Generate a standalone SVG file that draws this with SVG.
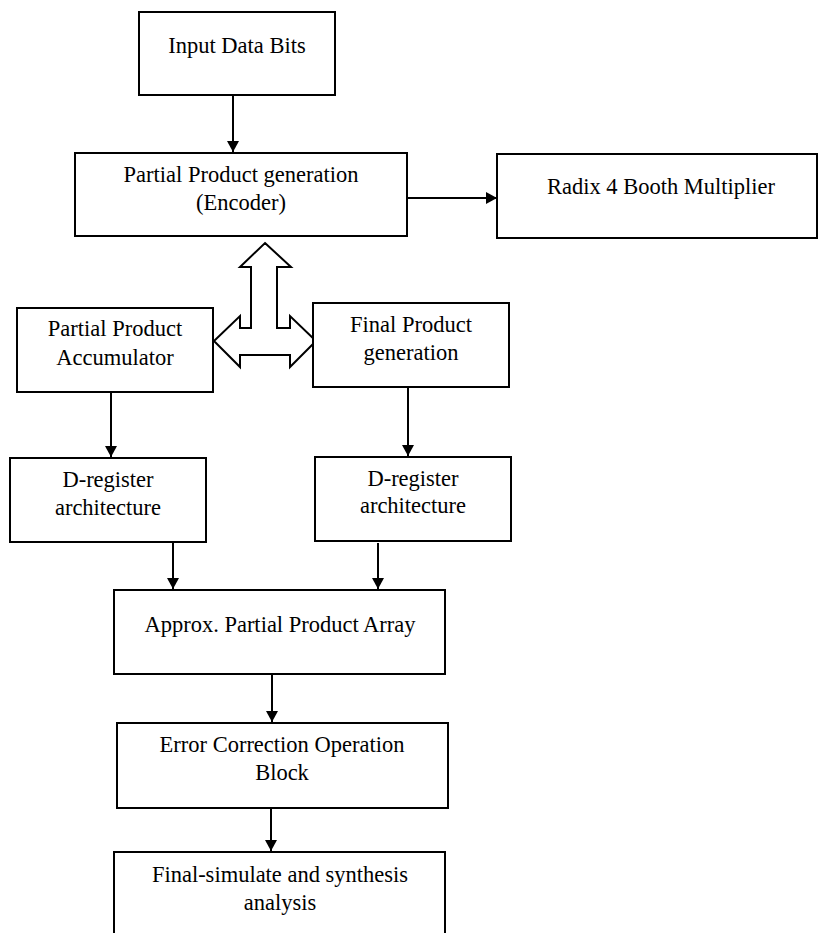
<svg xmlns="http://www.w3.org/2000/svg" width="818" height="933" viewBox="0 0 818 933">
<style>
.box{fill:#fff;stroke:#000;stroke-width:2}
.t{font-family:"Liberation Serif","Times New Roman",serif;font-size:22.5px;fill:#000;text-anchor:middle}
.c{fill:none;stroke:#000;stroke-width:2}
</style>
<defs>
<marker id="ah" viewBox="0 0 11 12" refX="11" refY="6" markerWidth="11" markerHeight="12" markerUnits="userSpaceOnUse" orient="auto">
<path d="M0,0 L11,6 L0,12 z" fill="#000"/>
</marker>
</defs>
<rect width="818" height="933" fill="#fff"/>
<g id="connectors">
<line class="c" x1="233" y1="96" x2="233" y2="152" marker-end="url(#ah)"/>
<line class="c" x1="407" y1="198" x2="497" y2="198" marker-end="url(#ah)"/>
<polygon class="c" points="265,243 291,267 277,267 277,328 290,328 290,316 316,341 290,367 290,355 240,355 240,367 214,341 240,316 240,328 251,328 251,267 240,267"/>
<line class="c" x1="111" y1="392" x2="111" y2="457" marker-end="url(#ah)"/>
<line class="c" x1="408" y1="387" x2="408" y2="456" marker-end="url(#ah)"/>
<line class="c" x1="173" y1="542" x2="173" y2="589" marker-end="url(#ah)"/>
<line class="c" x1="378" y1="543" x2="378" y2="589" marker-end="url(#ah)"/>
<line class="c" x1="272" y1="674" x2="272" y2="722" marker-end="url(#ah)"/>
<line class="c" x1="271" y1="808" x2="271" y2="851" marker-end="url(#ah)"/>
</g>
<g id="input">
<rect class="box" x="139" y="12" width="196" height="83"/>
<text class="t" x="237" y="53">Input Data Bits</text>
</g>
<g id="encoder">
<rect class="box" x="75" y="153" width="332" height="83"/>
<text class="t" x="241" y="182">Partial Product generation</text>
<text class="t" x="241" y="210">(Encoder)</text>
</g>
<g id="radix">
<rect class="box" x="497" y="154" width="320" height="84"/>
<text class="t" x="661" y="194">Radix 4 Booth Multiplier</text>
</g>
<g id="accumulator">
<rect class="box" x="17" y="308" width="196" height="84"/>
<text class="t" x="115" y="336">Partial Product</text>
<text class="t" x="115" y="365">Accumulator</text>
</g>
<g id="finalproduct">
<rect class="box" x="313" y="303" width="196" height="84"/>
<text class="t" x="411" y="332">Final Product</text>
<text class="t" x="411" y="360">generation</text>
</g>
<g id="dreg1">
<rect class="box" x="10" y="458" width="196" height="84"/>
<text class="t" x="108" y="487">D-register</text>
<text class="t" x="108" y="515">architecture</text>
</g>
<g id="dreg2">
<rect class="box" x="315" y="457" width="196" height="84"/>
<text class="t" x="413" y="486">D-register</text>
<text class="t" x="413" y="513">architecture</text>
</g>
<g id="approx">
<rect class="box" x="114" y="590" width="331" height="84"/>
<text class="t" x="280" y="632">Approx. Partial Product Array</text>
</g>
<g id="error">
<rect class="box" x="117" y="723" width="331" height="85"/>
<text class="t" x="282" y="752">Error Correction Operation</text>
<text class="t" x="282" y="780">Block</text>
</g>
<g id="final">
<rect class="box" x="114" y="852" width="331" height="90"/>
<text class="t" x="280" y="882">Final-simulate and synthesis</text>
<text class="t" x="280" y="910">analysis</text>
</g>
</svg>
